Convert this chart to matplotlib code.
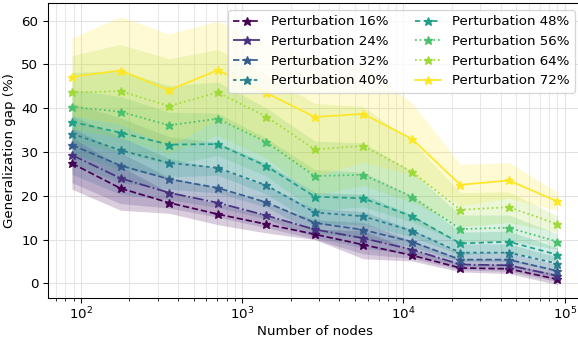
import matplotlib
matplotlib.use('Agg')
import matplotlib.pyplot as plt
import numpy as np

# number of nodes (log axis)
nodes = [88, 176, 352, 704, 1408, 2816, 5632, 11264, 22528, 45056, 90112]

levels = ['16%', '24%', '32%', '40%', '48%', '56%', '64%', '72%']

# mean generalization gap (%) per perturbation level
gap_16 = [27.4, 21.7, 18.4, 15.8, 13.5, 11.2, 8.8, 6.4, 3.5, 3.3, 0.9]
gap_24 = [29.3, 24.0, 20.7, 18.4, 15.5, 12.3, 10.3, 7.7, 4.3, 4.1, 1.7]
gap_32 = [31.6, 26.9, 23.8, 21.8, 18.5, 13.8, 12.2, 9.5, 5.4, 5.4, 2.8]
gap_40 = [34.2, 30.4, 27.5, 26.4, 22.4, 16.2, 15.3, 12.0, 7.0, 7.0, 4.5]
gap_48 = [36.9, 34.4, 31.7, 31.8, 26.8, 19.8, 19.4, 15.3, 9.1, 9.5, 6.5]
gap_56 = [40.3, 39.2, 36.1, 37.6, 32.3, 24.5, 24.8, 19.8, 12.4, 12.7, 9.5]
gap_64 = [43.6, 43.9, 40.5, 43.6, 38.1, 30.6, 31.4, 25.5, 16.8, 17.4, 13.5]
gap_72 = [47.2, 48.6, 44.1, 48.7, 43.5, 38.0, 38.7, 33.0, 22.5, 23.5, 18.7]

# spread (std) per perturbation level
std_16 = [5.9, 5.0, 2.4, 2.4, 2.0, 1.2, 3.2, 1.3, 0.9, 1.1, 1.2]
std_24 = [6.3, 5.8, 3.5, 3.3, 2.8, 2.2, 3.6, 2.0, 1.2, 1.4, 1.3]
std_32 = [6.7, 6.6, 4.7, 4.5, 3.8, 3.3, 4.2, 2.8, 1.6, 1.7, 1.4]
std_40 = [7.0, 7.4, 6.0, 5.8, 5.0, 4.6, 5.0, 3.7, 2.0, 2.0, 1.5]
std_48 = [7.4, 8.3, 7.4, 7.1, 6.4, 6.2, 6.0, 4.7, 2.6, 2.4, 1.6]
std_56 = [7.9, 9.4, 9.0, 8.4, 7.8, 8.0, 7.3, 5.8, 3.2, 2.9, 1.8]
std_64 = [8.4, 10.7, 10.8, 9.8, 9.5, 10.5, 9.0, 7.0, 3.9, 3.5, 1.9]
std_72 = [8.9, 12.3, 12.9, 11.2, 11.5, 13.5, 11.0, 8.2, 4.7, 4.1, 2.1]

means = [gap_16, gap_24, gap_32, gap_40, gap_48, gap_56, gap_64, gap_72]
stds = [std_16, std_24, std_32, std_40, std_48, std_56, std_64, std_72]

linestyles = ['--', '-.', '--', (0, (2, 2)), (0, (3, 2)), ':', ':', '-']

fig = plt.figure(figsize=(578 / 96, 339 / 96), dpi=96)
ax = fig.add_axes([0.0825, 0.121, 0.924, 0.869])

colors = plt.get_cmap('viridis')(np.linspace(0, 1, len(levels)))
x = np.array(nodes)
for level, mean, std, color, ls in zip(levels, means, stds, colors, linestyles):
    mean = np.array(mean)
    std = np.array(std)
    ax.fill_between(x, mean - std, mean + std, color=color, alpha=0.2, linewidth=0)
    ax.plot(x, mean, linestyle=ls, marker='*', markersize=6.5, color=color,
            linewidth=1.3, label='Perturbation ' + level)

ax.set_xscale('log')
ax.set_xlabel('Number of nodes', fontsize=10, labelpad=2)
ax.set_ylabel('Generalization gap (%)', fontsize=10)
ax.set_yticks([0, 10, 20, 30, 40, 50, 60])
ax.tick_params(labelsize=10)
ax.tick_params(axis='x', which='major', pad=2)
ax.grid(True, which='major', color='#e2e2e2', linewidth=0.8)
ax.xaxis.grid(True, which='minor', color='#e8e8e8', linewidth=0.8)
ax.set_axisbelow(True)
ax.legend(ncol=2, loc='upper right', fontsize=10)

fig.savefig('out.png', dpi=96)
